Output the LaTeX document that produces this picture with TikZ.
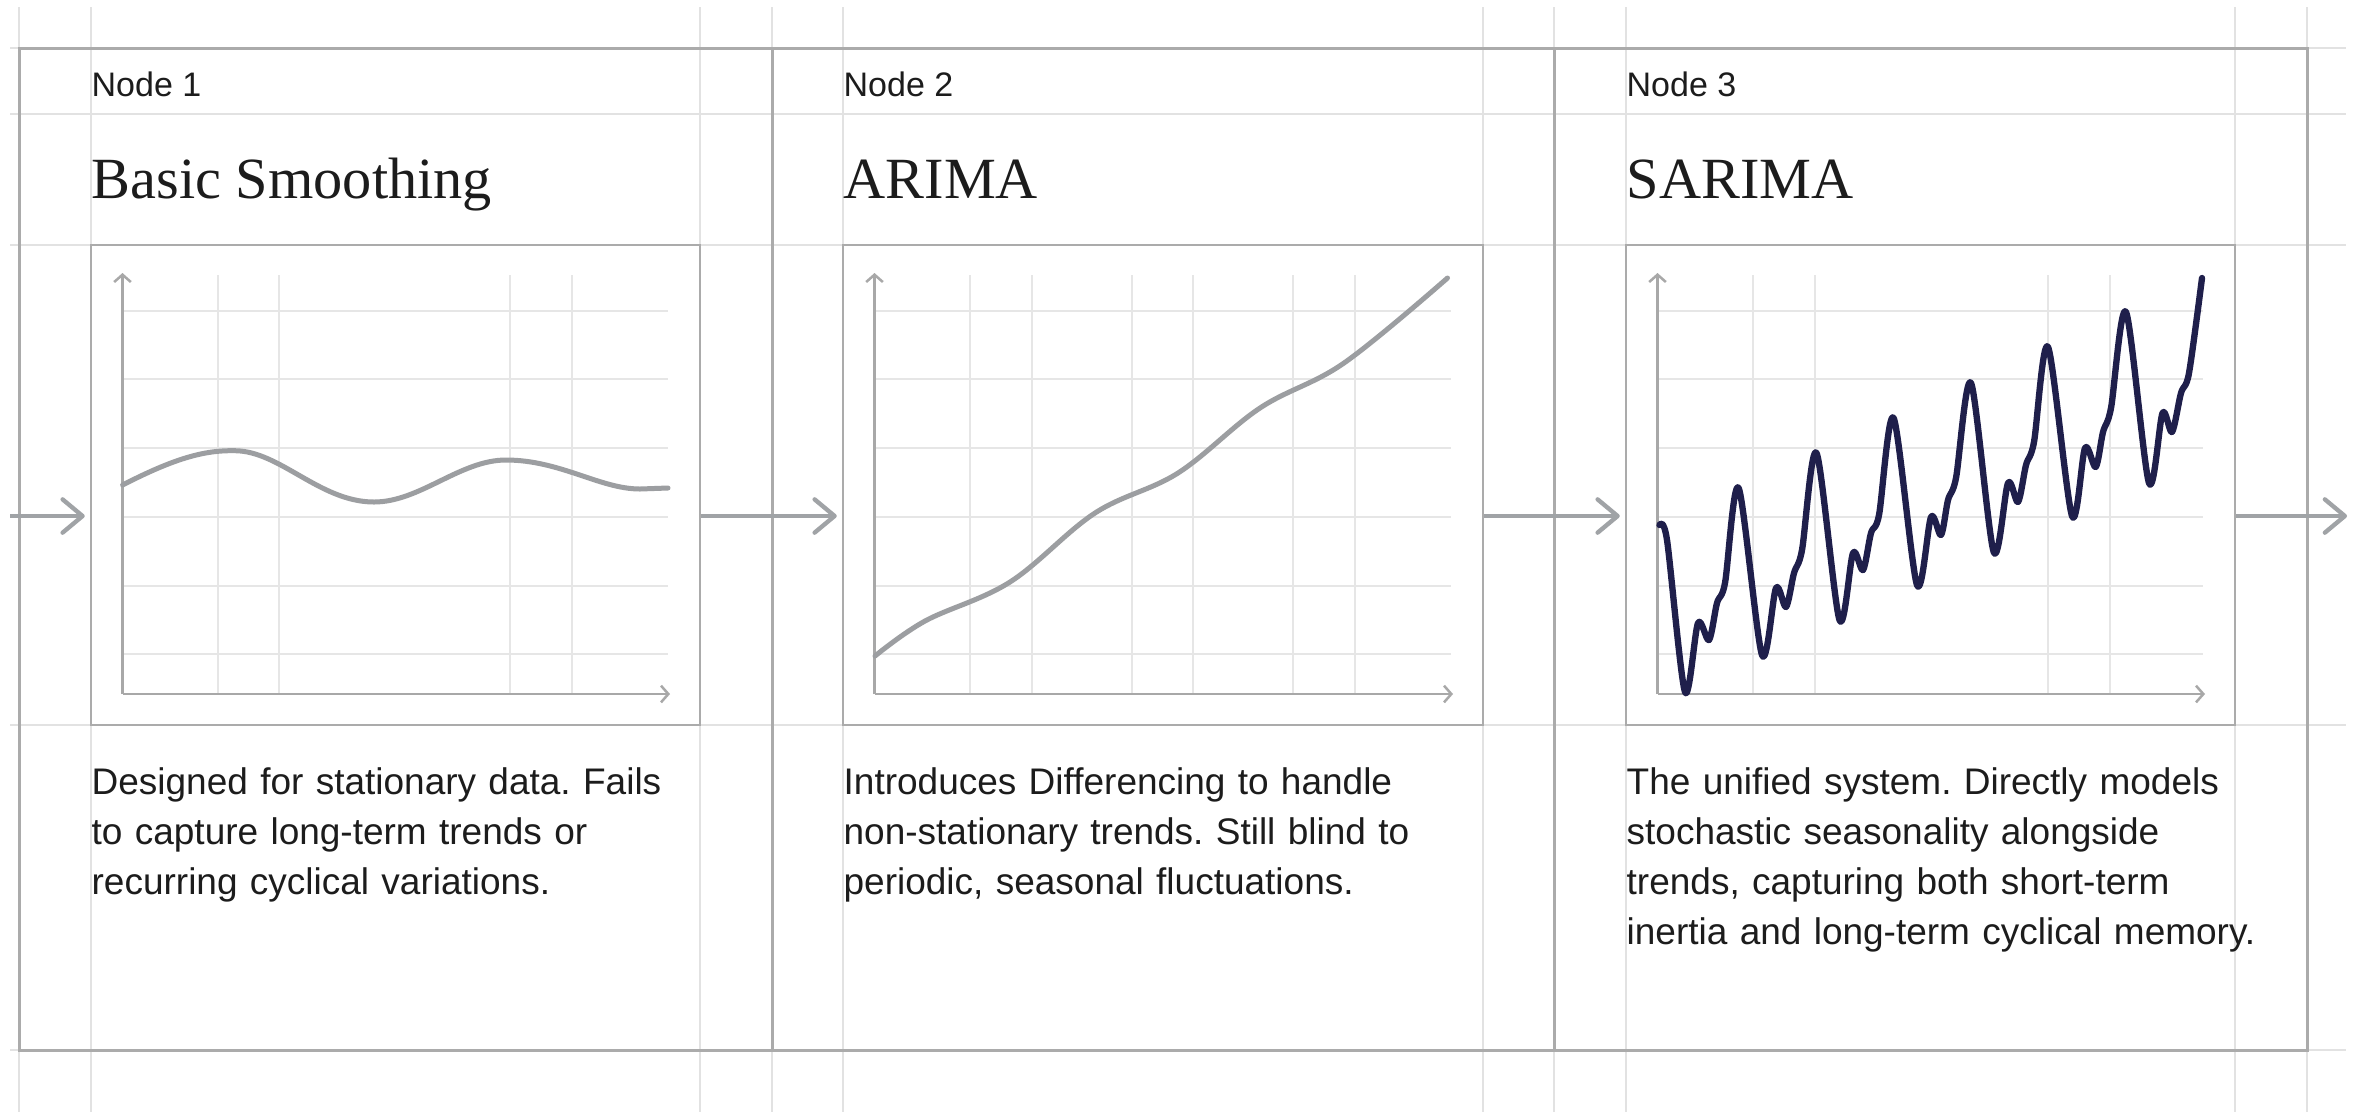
\documentclass[tikz,border=0pt]{standalone}
\usepackage{fontspec}
\setmainfont{Liberation Serif}
\setsansfont{Liberation Sans}
\usetikzlibrary{arrows.meta,fit}
\frenchspacing

\definecolor{gridbg}{HTML}{E2E2E2}
\definecolor{gridin}{HTML}{E6E6E6}
\definecolor{frame}{HTML}{ABABAB}
\definecolor{axiscol}{HTML}{A8A8A8}
\definecolor{flow}{HTML}{A0A3A6}
\definecolor{soft}{HTML}{9C9EA1}
\definecolor{navy}{HTML}{1F1F4B}
\definecolor{ink}{HTML}{1C1C1C}

\begin{document}
\begin{tikzpicture}[x=0.3pt,y=-0.3pt,
  bgline/.style={draw=gridbg, line width=0.6pt},
  ingrid/.style={draw=gridin, line width=0.6pt},
  panelbox/.style={draw=frame, line width=0.9pt, inner sep=0pt},
  chartbox/.style={draw=frame, line width=0.75pt, inner sep=0pt},
  axisline/.style={draw=axiscol, line width=0.75pt, -{Straight Barb[length=2.2pt,width=5pt]}},
  flowarrow/.style={draw=flow, line width=1.3pt, -{Straight Barb[length=6pt,width=10pt,round]}, shorten >=1.5pt},
  tag/.style={anchor=base west, inner sep=0pt, text=ink, font=\sffamily\fontsize{10.2pt}{12pt}\selectfont},
  heading/.style={anchor=base west, inner sep=0pt, text=ink, font=\rmfamily\fontsize{17.5pt}{21pt}\selectfont},
  body/.style={anchor=base west, inner sep=0pt, text=ink, text width=240pt, align=left, font=\sffamily\fontsize{11.1pt}{15pt}\selectfont},
  softcurve/.style={draw=soft, line width=1.5pt, line cap=round, line join=round},
  seasonal/.style={draw=navy, line width=1.9pt, line cap=round, line join=round}
]
% canvas
\fill[white] (0,0) rectangle (2354,1112);
\useasboundingbox (0,0) rectangle (2354,1112);

% light background grid
\foreach \gx in {19,91,700,772,843,1483,1554,1626,2235,2307}
  \draw[bgline] (\gx,7) -- (\gx,1112);
\foreach \gy in {48,114,245,725,1050}
  \draw[bgline] (10,\gy) -- (2346,\gy);

% chart grids and axes
\foreach \L/\R in {91/700,843/1483,1626/2235} {
  \foreach \gy in {311,379,448,517,586,654}
    \draw[ingrid] (\L+31,\gy) -- (\R-32,\gy);
}
\foreach \gx in {218,279,510,572,1753,1815,2048,2110,970,1032,1132,1193,1293,1355}
  \draw[ingrid] (\gx,275) -- (\gx,694);
\foreach \L/\R in {91/700,843/1483,1626/2235} {
  \draw[axisline] (\L+31.5,694) -- (\L+31.5,273);
  \draw[axisline] (\L+31.5,694) -- (\R-30,694);
}

% panels and chart frames
\node[panelbox, fit={(19,48) (772,1050)}] (p1) {};
\node[panelbox, fit={(772,48) (1554,1050)}] (p2) {};
\node[panelbox, fit={(1554,48) (2307,1050)}] (p3) {};
\node[chartbox, fit={(91,245) (700,725)}] (c1) {};
\node[chartbox, fit={(843,245) (1483,725)}] (c2) {};
\node[chartbox, fit={(1626,245) (2235,725)}] (c3) {};

% stationary series
\draw[softcurve] (122.6,485)
  .. controls (175,458) and (205,450) .. (235,450.7)
  .. controls (280,451) and (320,502) .. (374,502)
  .. controls (420,502) and (460,460) .. (506,460)
  .. controls (560,460) and (600,489) .. (640,489)
  -- (668,488);
% trending series
\draw[softcurve] plot[smooth, tension=0.6] coordinates {
  (875,656) (925,621) (1010,582) (1095,513) (1178,473) (1260,408)
  (1344,363) (1447.5,278)};
% seasonal series
\draw[seasonal] plot[smooth, tension=0.5] coordinates {
  (1659.5,525) (1667,540) (1685,692) (1698,623) (1709,640) (1717,603)
  (1725,583) (1738.6,488) (1762,655) (1776,588) (1786,607) (1794,573)
  (1802,550) (1816.5,453) (1839.5,620) (1853,553) (1863,570) (1871,533)
  (1879,515) (1893.6,418) (1917,585) (1931,517) (1941,535) (1948,500)
  (1956,478) (1971,383) (1993.7,552) (2008,483) (2018,502) (2026,465)
  (2034,442) (2048,347) (2072,516) (2085,448) (2095.7,467) (2103,432)
  (2111,408) (2126,312) (2149,483) (2162.5,413) (2172,432) (2181,393)
  (2189,373) (2202,278)};

% texts
\node[tag] (n1) at (91,96) {Node 1};
\node[tag] (n2) at (843,96) {Node 2};
\node[tag] (n3) at (1626,96) {Node 3};
\node[heading] (h1) at (91,198) {Basic Smoothing};
\node[heading] (h2) at (843,198) {ARIMA};
\node[heading] (h3) at (1626,198) {SARIMA};
\node[body] (d1) at (91,794) {Designed for stationary data. Fails\\to capture long-term trends or\\recurring cyclical variations.};
\node[body] (d2) at (843,794) {Introduces Differencing to handle\\non-stationary trends. Still blind to\\periodic, seasonal fluctuations.};
\node[body] (d3) at (1626,794) {The unified system. Directly models\\stochastic seasonality alongside\\trends, capturing both short-term\\inertia and long-term cyclical memory.};

% flow arrows
\coordinate (entry) at (10,516);
\coordinate (exit) at (2347,516);
\draw[flowarrow] (entry) -- (entry -| c1.west);
\draw[flowarrow] (c1.east |- entry) -- (c2.west |- entry);
\draw[flowarrow] (c2.east |- entry) -- (c3.west |- entry);
\draw[flowarrow, shorten >=0pt] (c3.east |- entry) -- (exit);
\end{tikzpicture}
\end{document}
